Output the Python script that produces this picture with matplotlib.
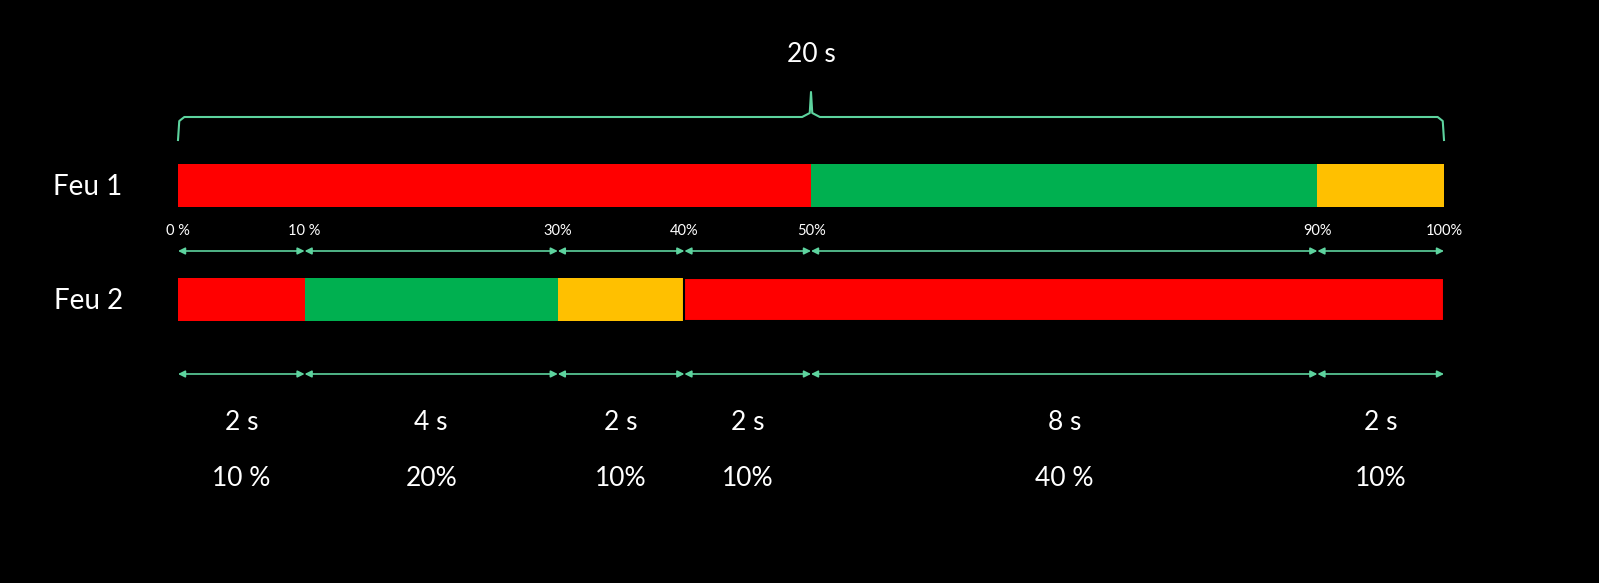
import matplotlib.pyplot as plt
import numpy as np

# data
feu1_colors = ['#FF0000', '#00B050', '#FFC000']
feu1_bounds = [0, 50, 90, 100]
feu2_colors = ['#FF0000', '#00B050', '#FFC000', '#FF0000']
feu2_bounds = [0, 10, 30, 40, 100]
tick_pcts = [0, 10, 30, 40, 50, 90, 100]
tick_labels = ['0 %', '10 %', '30%', '40%', '50%', '90%', '100%']
seg_bounds = [0, 10, 30, 40, 50, 90, 100]
seg_secs = ['2 s', '4 s', '2 s', '2 s', '8 s', '2 s']
seg_pcts = ['10 %', '20%', '10%', '10%', '40 %', '10%']
total = '20 s'

plt.rcParams['font.family'] = ['Lato', 'DejaVu Sans']
mint = '#5DD39E'

fig = plt.figure(figsize=(15.99, 5.83), dpi=100, facecolor='black')
ax = fig.add_axes([0, 0, 1, 1])
ax.set_facecolor('black')
scale = 12.66
ax.set_xlim(-178 / scale, 100 + (1599 - 1444) / scale)
ax.set_ylim(583, 0)
ax.axis('off')

# bars
for i, c in enumerate(feu1_colors):
    ax.barh(185.5, feu1_bounds[i + 1] - feu1_bounds[i], left=feu1_bounds[i], height=43, color=c)
for i, c in enumerate(feu2_colors):
    ax.barh(299, feu2_bounds[i + 1] - feu2_bounds[i], left=feu2_bounds[i], height=43, color=c,
            edgecolor='black' if i == 3 else c, linewidth=1.5 if i == 3 else 0)

ax.text(-7.1, 187, 'Feu 1', color='white', fontsize=20, ha='center', va='center')
ax.text(-7.1, 301, 'Feu 2', color='white', fontsize=20, ha='center', va='center')

# brace
bx = [0, 0.1, 0.5, 49.3, 49.9, 50, 50.1, 50.7, 99.5, 99.9, 100]
by = [140, 121, 117, 117, 113, 92, 113, 117, 117, 121, 140]
ax.plot(bx, by, color=mint, lw=1.5)
ax.text(50, 55, total, color='white', fontsize=19, ha='center', va='center')

def arrow(x0, x1, y):
    ax.annotate('', xy=(x1, y), xytext=(x0, y),
                arrowprops=dict(arrowstyle='<|-|>', color=mint, lw=1.2,
                                mutation_scale=10, shrinkA=0, shrinkB=0))

# percentage ticks row
for i in range(len(tick_pcts) - 1):
    arrow(tick_pcts[i], tick_pcts[i + 1], 251)
for p, lab in zip(tick_pcts, tick_labels):
    ax.text(p, 231, lab, color='white', fontsize=10.5, ha='center', va='center')

# durations row
for i in range(len(seg_bounds) - 1):
    arrow(seg_bounds[i], seg_bounds[i + 1], 374)
    mid = (seg_bounds[i] + seg_bounds[i + 1]) / 2
    ax.text(mid, 422, seg_secs[i], color='white', fontsize=19, ha='center', va='center')
    ax.text(mid, 478, seg_pcts[i], color='white', fontsize=19, ha='center', va='center')

fig.savefig('out.png', dpi=100, facecolor='black')
